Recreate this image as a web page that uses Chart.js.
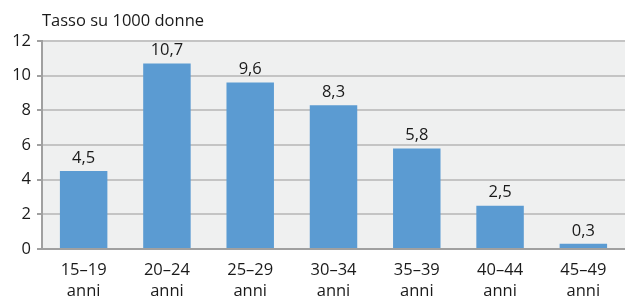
<!DOCTYPE html>
<html><head><meta charset="utf-8">
<script src="https://cdn.jsdelivr.net/npm/chart.js@4"></script>
<style>html,body{margin:0;padding:0;background:#fff;}#wrap{width:625px;height:300px;position:relative;}</style>
</head><body><div id="wrap"><canvas id="c" width="625" height="300"></canvas></div>
<script>
const categories = [["15–19","anni"],["20–24","anni"],["25–29","anni"],["30–34","anni"],["35–39","anni"],["40–44","anni"],["45–49","anni"]];
const values = [4.5, 10.7, 9.6, 8.3, 5.8, 2.5, 0.3];
const axisTitle = "Tasso su 1000 donne";
const FONT = "'Open Sans', 'Noto Sans', sans-serif";

const bgPlugin = {
  id: 'bg',
  beforeDraw(chart) {
    const {ctx, chartArea: a} = chart;
    ctx.save();
    ctx.fillStyle = '#eff0f0';
    ctx.fillRect(a.left, a.top, a.right - a.left, a.bottom - a.top);
    ctx.restore();
  },
  afterDraw(chart) {
    const ctx = chart.ctx;
    ctx.save();
    ctx.fillStyle = '#1a1a1a';
    ctx.font = "16.5px " + FONT;
    ctx.textBaseline = 'middle';
    ctx.textAlign = 'left';
    ctx.fillText(axisTitle, 42, 21);
    const meta = chart.getDatasetMeta(0);
    ctx.textAlign = 'center';
    ctx.textBaseline = 'middle';
    meta.data.forEach((bar, i) => {
      ctx.fillText(values[i].toFixed(1).replace('.', ','), bar.x, bar.y - 13);
    });
    ctx.restore();
  }
};

new Chart(document.getElementById('c'), {
  type: 'bar',
  data: {
    labels: categories,
    datasets: [{
      data: values,
      backgroundColor: '#5b9bd2',
      borderWidth: 0,
      barPercentage: 0.57,
      categoryPercentage: 1.0
    }]
  },
  options: {
    responsive: false,
    animation: false,
    layout: { padding: { top: 41, right: 0, left: 0, bottom: 0 } },
    plugins: { legend: { display: false }, tooltip: { enabled: false } },
    scales: {
      x: {
        grid: { display: false, drawTicks: false },
        border: { display: true, color: '#a0a0a0', width: 2 },
        ticks: { color: '#1a1a1a', font: { family: FONT, size: 16.5, lineHeight: 1.27 }, padding: 11, maxRotation: 0, autoSkip: false },
        afterFit(s) { s.height = 51; }
      },
      y: {
        min: 0, max: 12,
        grid: { color: '#c4c4c4', lineWidth: 2, tickLength: 5, drawTicks: true, tickColor: '#a0a0a0' },
        border: { display: true, color: '#a0a0a0', width: 2 },
        ticks: { stepSize: 2, color: '#1a1a1a', font: { family: FONT, size: 16.5 }, padding: 6 },
        afterFit(s) { s.width = 42; }
      }
    }
  },
  plugins: [bgPlugin]
});
</script></body></html>
